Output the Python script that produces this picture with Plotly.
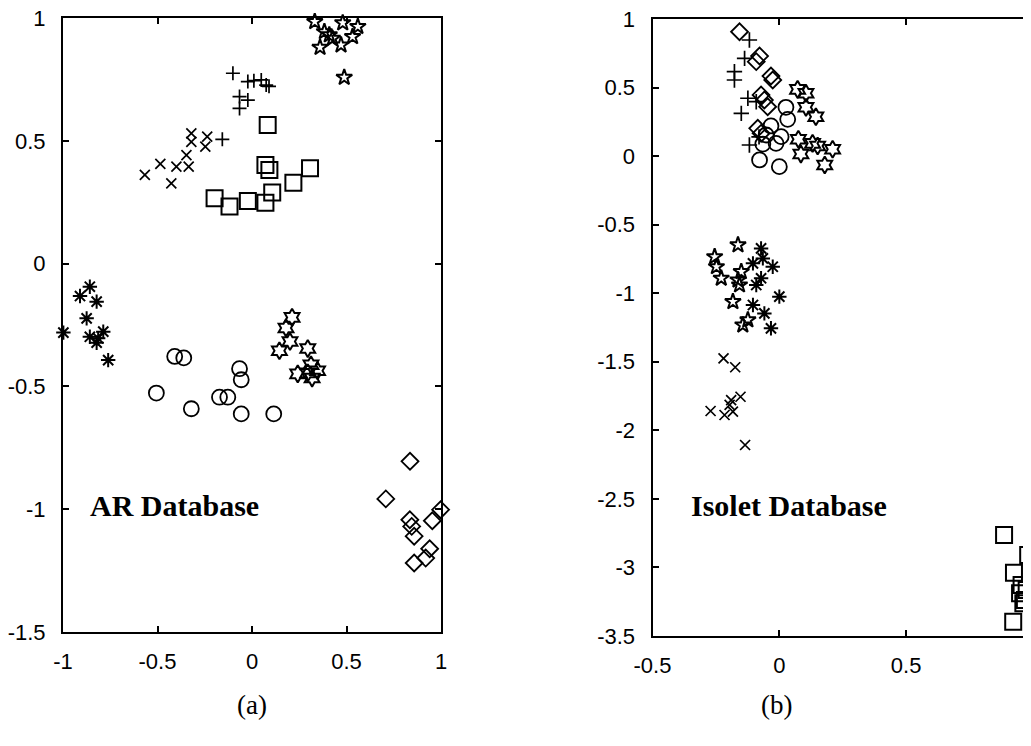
import plotly.graph_objects as go

# ---------------- (a) AR Database ----------------
ar_xmark_x = [-0.567, -0.485, -0.427, -0.400, -0.335, -0.347, -0.321, -0.321, -0.247, -0.237]
ar_xmark_y = [0.361, 0.406, 0.327, 0.395, 0.395, 0.442, 0.530, 0.496, 0.476, 0.517]

ar_plus_x = [-0.101, -0.022, 0.049, 0.075, 0.090, -0.066, -0.066, -0.022, -0.157, 0.010]
ar_plus_y = [0.775, 0.741, 0.748, 0.727, 0.722, 0.680, 0.632, 0.666, 0.506, 0.745]

ar_square_x = [0.083, 0.071, 0.092, -0.198, -0.119, -0.022, 0.071, 0.107, 0.219, 0.307]
ar_square_y = [0.564, 0.401, 0.381, 0.266, 0.232, 0.255, 0.248, 0.289, 0.329, 0.388]

ar_pent_x = [0.332, 0.480, 0.560, 0.383, 0.409, 0.426, 0.532, 0.360, 0.471, 0.488]
ar_pent_y = [0.985, 0.980, 0.965, 0.944, 0.931, 0.917, 0.924, 0.880, 0.890, 0.758]

ar_aster_x = [-0.858, -0.910, -0.822, -0.875, -0.998, -0.858, -0.814, -0.787, -0.822, -0.761]
ar_aster_y = [-0.094, -0.132, -0.155, -0.223, -0.281, -0.298, -0.304, -0.277, -0.322, -0.393]

ar_circle_x = [-0.506, -0.409, -0.361, -0.321, -0.172, -0.128, -0.066, -0.057, -0.057, 0.115]
ar_circle_y = [-0.527, -0.378, -0.384, -0.591, -0.544, -0.544, -0.428, -0.473, -0.612, -0.612]

ar_hexa_x = [0.212, 0.180, 0.201, 0.145, 0.295, 0.242, 0.312, 0.347, 0.318, 0.295]
ar_hexa_y = [-0.219, -0.262, -0.317, -0.355, -0.346, -0.449, -0.412, -0.436, -0.466, -0.445]

ar_diam_x = [0.836, 0.708, 0.835, 0.845, 0.858, 0.858, 0.919, 0.940, 0.954, 0.998]
ar_diam_y = [-0.805, -0.958, -1.043, -1.070, -1.110, -1.219, -1.199, -1.161, -1.047, -1.002]

ar_xticks = [-1, -0.5, 0, 0.5, 1]
ar_xticktext = ["-1", "-0.5", "0", "0.5", "1"]
ar_yticks = [-1.5, -1, -0.5, 0, 0.5, 1]
ar_yticktext = ["-1.5", "-1", "-0.5", "0", "0.5", "1"]

# ---------------- (b) Isolet Database ----------------
is_diam_x = [-0.072, -0.157, -0.078, -0.091, -0.033, -0.026, -0.072, -0.059, -0.046, -0.085, -0.072]
is_diam_y = [1.005, 0.907, 0.730, 0.689, 0.584, 0.555, 0.446, 0.409, 0.360, 0.203, 0.166]

is_plus_x = [-0.118, -0.137, -0.177, -0.177, -0.124, -0.150, -0.118, -0.091, -0.080]
is_plus_y = [0.847, 0.713, 0.616, 0.555, 0.422, 0.312, 0.081, 0.397, 0.140]

is_circle_x = [0.026, 0.033, -0.033, 0.007, -0.013, -0.065, -0.078, 0.000, -0.052]
is_circle_y = [0.356, 0.268, 0.220, 0.142, 0.093, 0.088, -0.028, -0.077, 0.154]

is_hexa_x = [0.072, 0.105, 0.105, 0.144, 0.075, 0.085, 0.131, 0.151, 0.210, 0.179]
is_hexa_y = [0.487, 0.458, 0.356, 0.287, 0.123, 0.015, 0.093, 0.074, 0.050, -0.065]

is_pent_x = [-0.163, -0.255, -0.248, -0.229, -0.150, -0.157, -0.163, -0.183, -0.124, -0.144]
is_pent_y = [-0.648, -0.734, -0.807, -0.891, -0.843, -0.940, -0.904, -1.062, -1.195, -1.232]

is_aster_x = [-0.072, -0.065, -0.104, -0.026, -0.072, -0.091, 0.000, -0.104, -0.059, -0.033]
is_aster_y = [-0.673, -0.746, -0.782, -0.807, -0.891, -0.940, -1.025, -1.086, -1.147, -1.256]

is_xmark_x = [-0.220, -0.174, -0.271, -0.216, -0.190, -0.153, -0.183, -0.135, -0.196]
is_xmark_y = [-1.475, -1.540, -1.859, -1.888, -1.779, -1.755, -1.864, -2.107, -1.815]

is_square_x = [0.886, 0.981, 0.925, 0.955, 0.949, 0.975, 0.968, 0.962, 0.922]
is_square_y = [-2.764, -2.910, -3.039, -3.128, -3.189, -3.165, -3.238, -3.262, -3.396]

is_xticks = [-0.5, 0, 0.5, 1]
is_xticktext = ["-0.5", "0", "0.5", "1"]
is_yticks = [-3.5, -3, -2.5, -2, -1.5, -1, -0.5, 0, 0.5, 1]
is_yticktext = ["-3.5", "-3", "-2.5", "-2", "-1.5", "-1", "-0.5", "0", "0.5", "1"]

W, H = 1031, 746
OFF = 8  # page body margin offset

fig = go.Figure()


def add(xs, ys, symbol, size, lw, xa, ya):
    fig.add_trace(go.Scatter(
        x=xs, y=ys, mode="markers", xaxis=xa, yaxis=ya,
        cliponaxis=False, showlegend=False, hoverinfo="skip",
        marker=dict(symbol=symbol, size=size, color="black",
                    line=dict(color="black", width=lw)),
    ))


# AR
add(ar_xmark_x, ar_xmark_y, "x-thin", 10, 1.7, "x", "y")
add(ar_plus_x, ar_plus_y, "cross-thin", 10, 1.7, "x", "y")
add(ar_square_x, ar_square_y, "square-open", 16, 2, "x", "y")
add(ar_pent_x, ar_pent_y, "star-open", 12, 2, "x", "y")
add(ar_aster_x, ar_aster_y, "asterisk-open", 12, 2, "x", "y")
add(ar_circle_x, ar_circle_y, "circle-open", 15, 1.8, "x", "y")
add(ar_hexa_x, ar_hexa_y, "hexagram-open", 13, 2, "x", "y")
add(ar_diam_x, ar_diam_y, "diamond-open", 13, 1.8, "x", "y")

# Isolet
add(is_diam_x, is_diam_y, "diamond-open", 13, 1.8, "x2", "y2")
add(is_plus_x, is_plus_y, "cross-thin", 11, 1.7, "x2", "y2")
add(is_circle_x, is_circle_y, "circle-open", 15, 1.8, "x2", "y2")
add(is_hexa_x, is_hexa_y, "hexagram-open", 13, 2, "x2", "y2")
add(is_pent_x, is_pent_y, "star-open", 12, 2, "x2", "y2")
add(is_aster_x, is_aster_y, "asterisk-open", 12, 2, "x2", "y2")
add(is_xmark_x, is_xmark_y, "x-thin", 10, 1.7, "x2", "y2")
add(is_square_x, is_square_y, "square-open", 16, 2, "x2", "y2")

common = dict(
    showline=True, linecolor="black", linewidth=2, mirror="ticks",
    ticks="inside", ticklen=6, tickwidth=1.5, tickcolor="black",
    showgrid=False, zeroline=False, automargin=False, fixedrange=True,
    ticklabeloverflow="allow",
    tickfont=dict(family="Liberation Sans, Arial, sans-serif", size=22, color="black"),
)


def px_x(v):
    return (v - OFF) / W


def px_y(v):
    return 1 - (v - OFF) / H


serif = "Liberation Serif, Times New Roman, serif"

fig.update_layout(
    width=W, height=H,
    margin=dict(l=0, r=0, t=0, b=0),
    paper_bgcolor="white", plot_bgcolor="white",
    xaxis=dict(domain=[px_x(63), px_x(441)], range=[-1, 1], anchor="y",
               tickvals=ar_xticks, ticktext=ar_xticktext, ticklabelstandoff=9, **common),
    yaxis=dict(domain=[px_y(632), px_y(18)], range=[-1.5, 1], anchor="x",
               tickvals=ar_yticks, ticktext=ar_yticktext, ticklabelstandoff=11, **common),
    xaxis2=dict(domain=[px_x(652.5), px_x(1033)], range=[-0.5, 1], anchor="y2",
                tickvals=is_xticks, ticktext=is_xticktext, ticklabelstandoff=9, **common),
    yaxis2=dict(domain=[px_y(636), px_y(19)], range=[-3.5, 1], anchor="x2",
                tickvals=is_yticks, ticktext=is_yticktext, ticklabelstandoff=11, **common),
    annotations=[
        dict(text="<b>AR Database</b>", x=-0.868, y=-0.983, xref="x", yref="y",
             xanchor="left", yanchor="middle", showarrow=False,
             font=dict(family=serif, size=30, color="black")),
        dict(text="<b>Isolet Database</b>", x=-0.358, y=-2.55, xref="x2", yref="y2",
             xanchor="left", yanchor="middle", showarrow=False,
             font=dict(family=serif, size=30, color="black")),
        dict(text="(a)", x=px_x(252), y=px_y(705), xref="paper", yref="paper",
             xanchor="center", yanchor="middle", showarrow=False,
             font=dict(family=serif, size=27, color="black")),
        dict(text="(b)", x=px_x(776), y=px_y(705), xref="paper", yref="paper",
             xanchor="center", yanchor="middle", showarrow=False,
             font=dict(family=serif, size=27, color="black")),
    ],
)

fig.write_html("out.html")
